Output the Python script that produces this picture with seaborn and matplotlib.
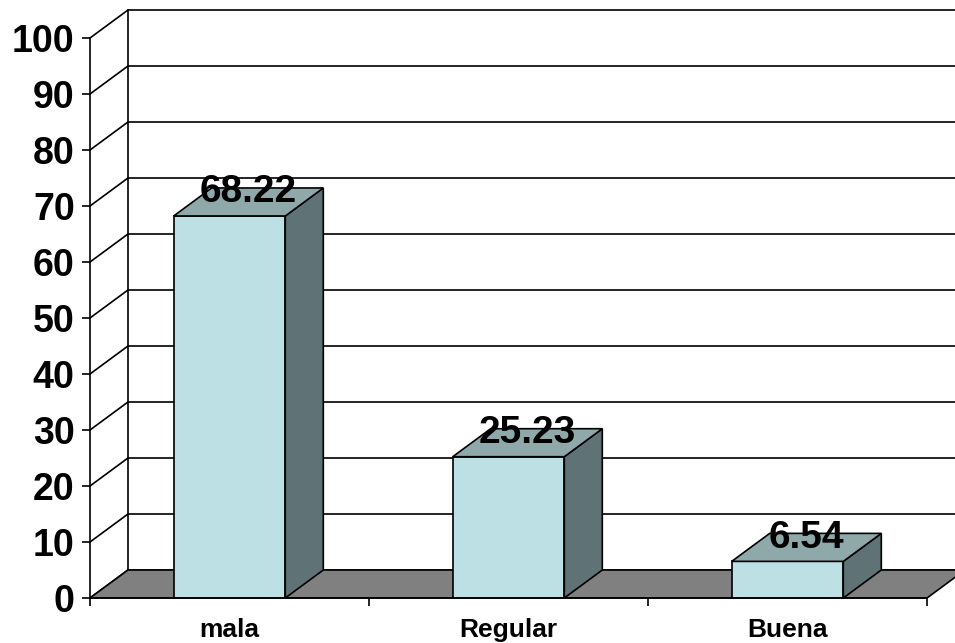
import matplotlib
matplotlib.use("Agg")
import matplotlib.pyplot as plt
from matplotlib.patches import Polygon
import seaborn as sns

categories = ["mala", "Regular", "Buena"]
values = [68.22, 25.23, 6.54]
yticks = [0, 10, 20, 30, 40, 50, 60, 70, 80, 90, 100]

front_color = "#BCE0E4"
top_color = "#8FA9AB"
side_color = "#5F7376"
floor_color = "#808080"

sns.set_style("white")
plt.rcParams["font.family"] = ["Liberation Sans", "DejaVu Sans"]
plt.rcParams["font.weight"] = "bold"
plt.rcParams["text.color"] = "black"
plt.rcParams["xtick.color"] = "black"
plt.rcParams["ytick.color"] = "black"

fig = plt.figure(figsize=(9.55, 6.43), dpi=100)
# axes placed so that the front axis corner sits where the reference has it
ax = fig.add_axes([90 / 955, 45 / 643, 865 / 955, 598 / 643])

# depth of the fake 3d box, in data units
dx = 38 / 279
dy = 5.0
lw = 1.2

sns.barplot(x=categories, y=values, color=front_color, width=0.4,
            edgecolor="black", linewidth=lw, saturation=1, zorder=3, ax=ax)

# back wall grid + left side wall
for v in yticks:
    ax.plot([-0.5 + dx, 2.5 + dx], [v + dy, v + dy], color="black", lw=lw,
            zorder=1, clip_on=False)
    ax.plot([-0.5, -0.5 + dx], [v, v + dy], color="black", lw=lw,
            zorder=1, clip_on=False)
ax.plot([-0.5 + dx, -0.5 + dx], [dy, 100 + dy], color="black", lw=lw, zorder=1)

# floor
floor = Polygon([(-0.5, 0), (2.5, 0), (2.5 + dx, dy), (-0.5 + dx, dy)],
                closed=True, facecolor=floor_color, edgecolor="black",
                lw=lw, zorder=2, clip_on=False)
ax.add_patch(floor)

# top and side faces of each bar
for bar, v in zip(ax.patches[:len(values)], values):
    x0 = bar.get_x()
    x1 = x0 + bar.get_width()
    h = bar.get_height()
    side = Polygon([(x1, 0), (x1 + dx, dy), (x1 + dx, h + dy), (x1, h)],
                   closed=True, facecolor=side_color, edgecolor="black",
                   lw=lw, zorder=3)
    top = Polygon([(x0, h), (x0 + dx, h + dy), (x1 + dx, h + dy), (x1, h)],
                  closed=True, facecolor=top_color, edgecolor="black",
                  lw=lw, zorder=3)
    ax.add_patch(side)
    ax.add_patch(top)
    ax.annotate(f"{v:.2f}", (x0 + bar.get_width() / 2 + dx / 2, h + dy),
                xytext=(0, -3), textcoords="offset points",
                ha="center", va="center", fontsize=28, fontweight="bold",
                color="black", zorder=5)

ax.set_xlim(-0.5, -0.5 + 865 / 279)
ax.set_ylim(0, 598 / 5.6)

for s in ["top", "right"]:
    ax.spines[s].set_visible(False)
ax.spines["left"].set_bounds(0, 100)
ax.spines["bottom"].set_bounds(-0.5, 2.5)
for s in ["left", "bottom"]:
    ax.spines[s].set_linewidth(lw)
    ax.spines[s].set_color("black")
    ax.spines[s].set_zorder(4)

ax.set_yticks(yticks)
ax.set_yticklabels([str(t) for t in yticks], fontsize=27, fontweight="bold")
ax.tick_params(axis="y", direction="out", length=6, width=lw, pad=5, left=True)

ax.set_xticks(range(len(categories)))
ax.set_xticklabels(categories, fontsize=19, fontweight="bold")
ax.set_xticks([-0.5, 0.5, 1.5, 2.5], minor=True)
ax.tick_params(axis="x", which="major", length=0, pad=14.5)
ax.tick_params(axis="x", which="minor", direction="out", length=6, width=lw,
               bottom=True)
ax.set_xlabel("")
ax.set_ylabel("")
ax.grid(False)

fig.savefig("out.png", dpi=100)
